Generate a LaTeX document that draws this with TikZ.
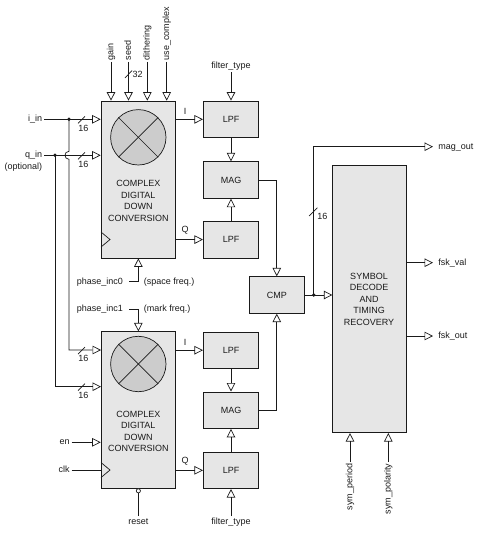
\documentclass[tikz,border=0pt]{standalone}
\usepackage{fontspec}
\setmainfont{Liberation Sans}
\usetikzlibrary{arrows.meta,calc}
\definecolor{boxgray}{HTML}{E6E6E6}
\definecolor{circgray}{HTML}{CCCCCC}
\definecolor{ln}{HTML}{1A1A1A}
\begin{document}
\begin{tikzpicture}[x=1pt,y=-1pt, line width=0.7pt, draw=ln,
  every node/.style={font=\fontsize{9}{11.5}\selectfont, text=ln},
  blk/.style={draw=ln, fill=boxgray, inner sep=0pt, minimum width=55.4pt, minimum height=36.7pt},
  ddcbox/.style={blk, minimum width=74.7pt, minimum height=157pt},
  mixer/.style={draw=ln, fill=circgray, circle, minimum size=55.4pt, inner sep=0pt},
  sig/.style={-{Triangle[open,length=8.5pt,width=8.5pt]}},
  lbl/.style={inner sep=1.5pt, text height=6.5pt, text depth=1.9pt},
  wlbl/.style={inner sep=0.5pt},
  dotc/.style={fill=ln}]
\useasboundingbox (0,0) rectangle (480,535);

% ---------- blocks ----------
\node[ddcbox] (ddc1) at (138.35,179.5) {};
\node[ddcbox] (ddc2) at (138.35,410.2) {};
\node[mixer] (mix1) at (138.3,137.3) {};
\node[mixer] (mix2) at (138.3,364) {};
\draw (mix1.45) -- (mix1.225); \draw (mix1.135) -- (mix1.315);
\draw (mix2.45) -- (mix2.225); \draw (mix2.135) -- (mix2.315);
\node[align=center] (txt1) at (138.3,201) {COMPLEX\\DIGITAL\\DOWN\\CONVERSION};
\node[align=center] (txt2) at (138.3,431.5) {COMPLEX\\DIGITAL\\DOWN\\CONVERSION};
% clock triangles
\draw (101,232) -- (110,239.5) -- (101,247);
\draw (101,462.5) -- (110,470) -- (101,477.5);

\node[blk] (lpf1) at (231,119.35) {LPF};
\node[blk] (mag1) at (231,180) {MAG};
\node[blk] (lpf2) at (231,239.6) {LPF};
\node[blk] (lpf3) at (231,350.2) {LPF};
\node[blk] (mag2) at (231,410.2) {MAG};
\node[blk] (lpf4) at (231,470.3) {LPF};
\node[blk, minimum width=55pt, minimum height=36.6pt] (cmp) at (276.8,295) {CMP};
\node[blk, minimum width=73.3pt, minimum height=267pt] (sym) at (369.35,299.2) {};
\node[align=center] (symtxt) at (369,299.3) {SYMBOL\\DECODE\\AND\\TIMING\\RECOVERY};

% ---------- top control inputs ----------
\node[lbl, rotate=90, anchor=west] (gain) at (111,62) {gain};
\node[lbl, rotate=90, anchor=west] (seed) at (128.5,62) {seed};
\node[lbl, rotate=90, anchor=west] (dith) at (147.3,62) {dithering};
\node[lbl, rotate=90, anchor=west] (usec) at (166.7,62) {use\_complex};
\draw[sig] (gain.west) -- (gain.west |- ddc1.north);
\draw[sig] (seed.west) -- (seed.west |- ddc1.north);
\draw[sig] (dith.west) -- (dith.west |- ddc1.north);
\draw[sig] (usec.west) -- (usec.west |- ddc1.north);
\draw (125,78) -- (132,70.5);
\node[wlbl, anchor=west] (w32) at (131.8,74) {32};

% ---------- i_in / q_in ----------
\node[lbl, anchor=east] (iin) at (44,119.3) {i\_in};
\node[lbl, anchor=east] (qin) at (44,155.3) {q\_in};
\node[lbl, anchor=east] (qopt) at (44,167.5) {(optional)};
\coordinate (idot) at (69,119.3);
\coordinate (qdot) at (55,155.3);
\coordinate (i2) at (101,350);
\coordinate (q2) at (101,386.7);
\draw[sig] (iin.east) -- (iin.east -| ddc1.west);
\draw[sig] (qin.east) -- (qin.east -| ddc1.west);
\draw[sig] (idot) -- ($(idot |- qdot)+(0,-4)$) .. controls +(-5.33,0) and +(-5.33,0) .. ($(idot |- qdot)+(0,4)$) -- (idot |- i2) -- (i2);
\draw[sig] (qdot) -- (qdot |- q2) -- (q2);
\fill[dotc] (idot) circle (1.9pt);
\fill[dotc] (qdot) circle (1.9pt);
% bus slashes
\draw (78,123.3) -- (85,116.3);
\node[wlbl, anchor=north] (w16a) at (83.5,124) {16};
\draw (78,159.3) -- (85,152.3);
\node[wlbl, anchor=north] (w16b) at (83.5,160) {16};
\draw (78,354) -- (85,347);
\node[wlbl, anchor=north] (w16c) at (83.5,354.7) {16};
\draw (78,390.7) -- (85,383.7);
\node[wlbl, anchor=north] (w16d) at (83.5,391.4) {16};

% ---------- en / clk / reset ----------
\node[lbl, anchor=east] (en) at (71.5,442.3) {en};
\node[lbl, anchor=east] (clk) at (71.5,470) {clk};
\draw[sig] (en.east) -- (en.east -| ddc2.west);
\draw (clk.east) -- (clk.east -| ddc2.west);
\node[draw=ln, fill=white, circle, inner sep=0pt, minimum size=4.2pt] (bub) at (138.35,490.8) {};
\node[lbl, anchor=north] (rst) at (138.35,516) {reset};
\draw (rst.north) -- (bub.south);

% ---------- phase increments ----------
\node[lbl, anchor=east, inner xsep=6pt] (ph0) at (129.3,281.7) {phase\_inc0};
\node[lbl, anchor=west] (sp0) at (142,281.7) {(space freq.)};
\draw[sig] (ph0.east) -- (ph0.east -| ddc1.south) -- (ddc1.south);
\node[lbl, anchor=east, inner xsep=6pt] (ph1) at (129.3,309) {phase\_inc1};
\node[lbl, anchor=west] (mk1) at (142,309) {(mark freq.)};
\draw[sig] (ph1.east) -- (ph1.east -| ddc2.north) -- (ddc2.north);

% ---------- DDC outputs ----------
\draw[sig] (lpf1.west -| ddc1.east) -- (lpf1.west);
\draw[sig] (lpf2.west -| ddc1.east) -- (lpf2.west);
\draw[sig] (lpf3.west -| ddc2.east) -- (lpf3.west);
\draw[sig] (lpf4.west -| ddc2.east) -- (lpf4.west);
\node[wlbl, anchor=south] (o1) at (185,115.5) {I};
\node[wlbl, anchor=south] (o2) at (185,235.3) {Q};
\node[wlbl, anchor=south] (o3) at (185,346) {I};
\node[wlbl, anchor=south] (o4) at (185,466) {Q};

% ---------- filter chains ----------
\node[lbl, anchor=south] (ft1) at (231,72) {filter\_type};
\node[lbl, anchor=north] (ft2) at (231,516) {filter\_type};
\draw[sig] (ft1.south) -- (lpf1.north);
\draw[sig] (ft2.north) -- (lpf4.south);
\draw[sig] (lpf1.south) -- (mag1.north);
\draw[sig] (lpf2.north) -- (mag1.south);
\draw[sig] (lpf3.south) -- (mag2.north);
\draw[sig] (lpf4.north) -- (mag2.south);

% ---------- compare ----------
\draw[sig] (mag1.east) -- (mag1.east -| cmp.north) -- (cmp.north);
\draw[sig] (mag2.east) -- (mag2.east -| cmp.south) -- (cmp.south);
\coordinate (cdot) at ($(cmp.east)+(9,0)$);
\draw[sig] (cmp.east) -- (cmp.east -| sym.west);
\node[lbl, anchor=west, inner xsep=5pt] (magout) at (433,146.7) {mag\_out};
\draw[sig] (cdot) -- (cdot |- magout.west) -- (magout.west);
\fill[dotc] (cdot) circle (1.9pt);
\draw (309,216) -- (317.3,207.7);
\node[wlbl, anchor=west] (w16e) at (316.5,216.7) {16};

% ---------- symbol decode outputs / inputs ----------
\node[lbl, anchor=west, inner xsep=5pt] (fskval) at (433,262.7) {fsk\_val};
\node[lbl, anchor=west, inner xsep=5pt] (fskout) at (433,336) {fsk\_out};
\draw[sig] (sym.east |- fskval.west) -- (fskval.west);
\draw[sig] (sym.east |- fskout.west) -- (fskout.west);
\node[lbl, rotate=90, anchor=east] (symp) at (350,462) {sym\_period};
\node[lbl, rotate=90, anchor=east] (symq) at (388.3,462) {sym\_polarity};
\draw[sig] (symp.east) -- (symp.east |- sym.south);
\draw[sig] (symq.east) -- (symq.east |- sym.south);
\end{tikzpicture}
\end{document}
